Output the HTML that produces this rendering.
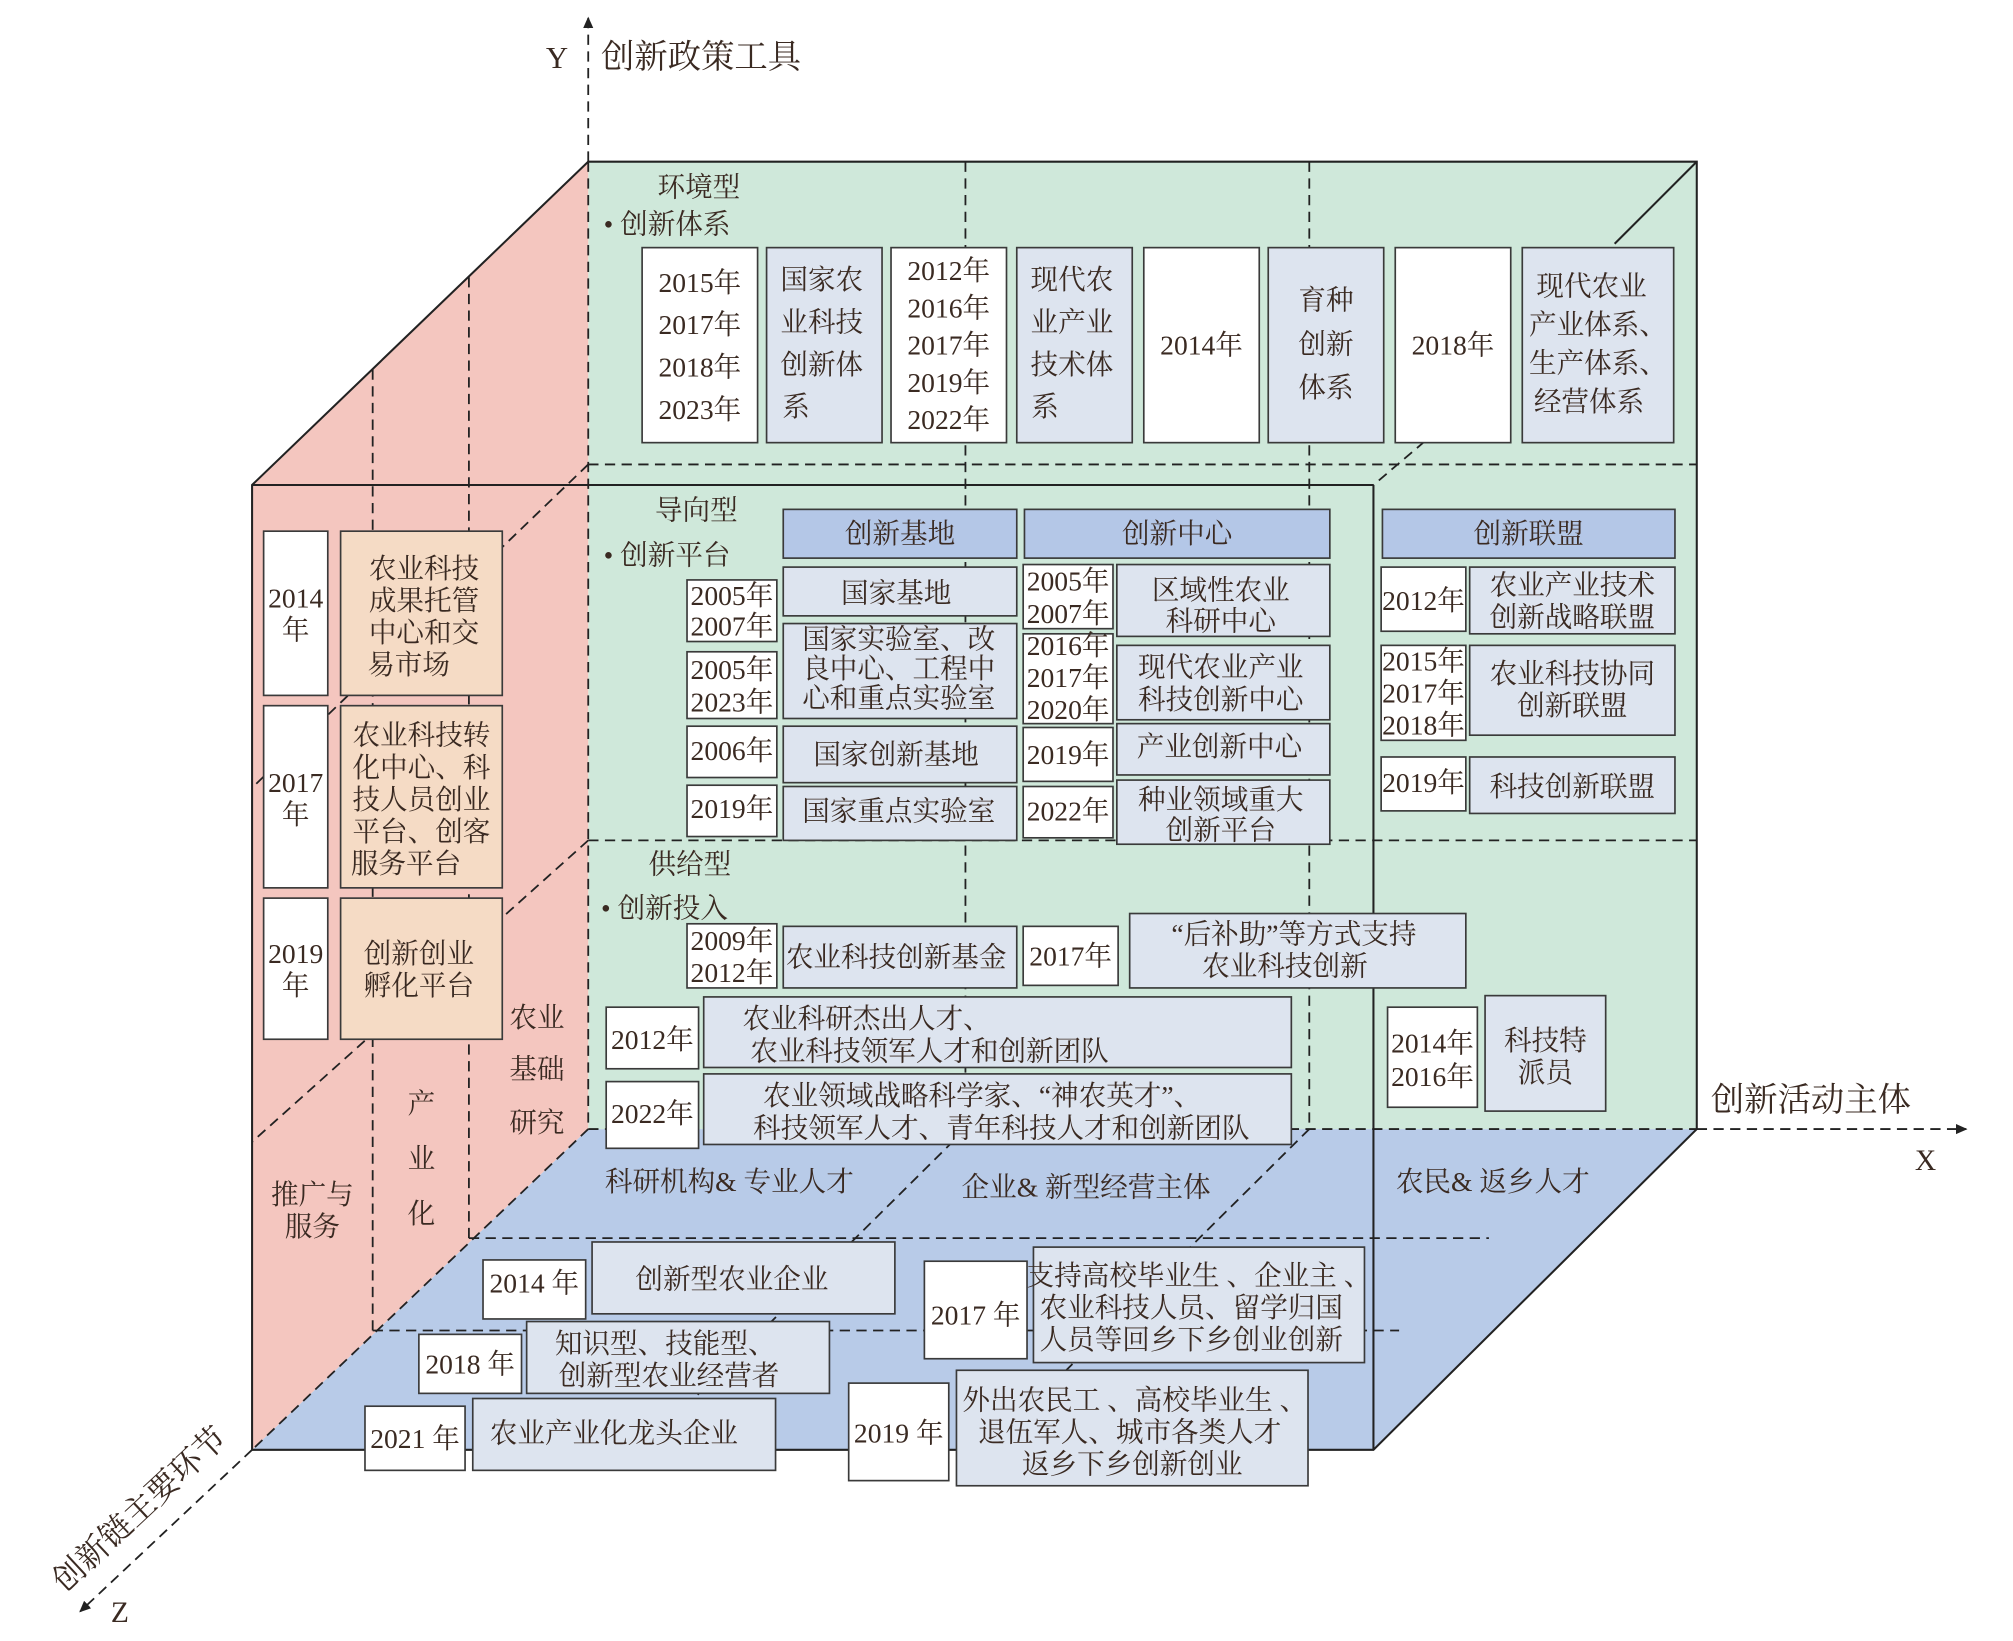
<!DOCTYPE html>
<html><head><meta charset="utf-8"><style>
html,body{margin:0;padding:0;background:#fff;}
svg{display:block;}
text{font-family:"Liberation Serif","Noto Serif CJK SC",serif;fill:#3a2a22;font-size:21.5px;}
.t text{text-anchor:middle;dominant-baseline:central;}
.w{fill:#fff;stroke:#3a3a3a;stroke-width:1.3;}
.g{fill:#dde4ef;stroke:#3a3a3a;stroke-width:1.3;}
.h{fill:#b4c7e7;stroke:#3a3a3a;stroke-width:1.3;}
.p{fill:#f5dbc5;stroke:#3a3a3a;stroke-width:1.3;}
.d{stroke:#222;stroke-width:1.4;stroke-dasharray:8,5;fill:none;}
.s{stroke:#222;stroke-width:1.6;fill:none;}
</style></head><body>
<svg width="2013" height="1641" viewBox="0 0 1568 1279" xmlns="http://www.w3.org/2000/svg">
<defs><marker id="ar" markerWidth="10" markerHeight="10" refX="8" refY="5" orient="auto" markerUnits="userSpaceOnUse"><path d="M0,1 L9,5 L0,9 z" fill="#222"/></marker></defs>
<rect x="458" y="126" width="864" height="754" fill="#cfe8da"/>
<polygon points="196,378 458,126 458,880 196,1130" fill="#f4c6bf"/>
<polygon points="458,880 1322,880 1070,1130 196,1130" fill="#b8cbe8"/>
<line class="d" x1="458" y1="362" x2="1322" y2="362"/>
<line class="d" x1="458" y1="655" x2="1322" y2="655"/>
<line class="d" x1="752" y1="126" x2="752" y2="880"/>
<line class="d" x1="1020" y1="126" x2="1020" y2="880"/>
<line class="d" x1="458" y1="126" x2="458" y2="880"/>
<line class="d" x1="458" y1="880" x2="1322" y2="880"/>
<line class="d" x1="458" y1="362" x2="196" y2="614"/>
<line class="d" x1="458" y1="655" x2="196" y2="890"/>
<line class="d" x1="290" y1="288" x2="290" y2="1037"/>
<line class="d" x1="365" y1="216" x2="365" y2="965"/>
<line class="d" x1="365" y1="965" x2="1160" y2="965"/>
<line class="d" x1="290" y1="1037" x2="1090" y2="1037"/>
<line class="d" x1="752" y1="880" x2="500" y2="1130"/>
<line class="d" x1="1020" y1="880" x2="768" y2="1130"/>
<line class="d" x1="458" y1="880" x2="196" y2="1130"/>
<line class="d" x1="1110" y1="344" x2="1070" y2="378"/>
<polyline class="s" points="196,1130 196,378 458,126 1322,126 1322,880 1070,1130 196,1130"/>
<line class="s" x1="196" y1="378" x2="1070" y2="378"/>
<line class="s" x1="1070" y1="378" x2="1070" y2="1130"/>
<line class="s" x1="1258" y1="190" x2="1322" y2="126"/>
<line class="d" x1="458" y1="126" x2="458" y2="14" marker-end="url(#ar)"/>
<line class="d" x1="1322" y1="880" x2="1532" y2="880" marker-end="url(#ar)"/>
<line class="d" x1="196" y1="1130" x2="62" y2="1256" marker-end="url(#ar)"/>
<text x="425" y="53" style="font-size:24px">Y</text>
<text x="468" y="53" style="font-size:26px">创新政策工具</text>
<text x="1333" y="866" style="font-size:26px">创新活动主体</text>
<text x="1492" y="912" style="font-size:23px">X</text>
<text x="86" y="1264" style="font-size:23px">Z</text>
<text x="0" y="0" style="font-size:25px" transform="translate(50,1242) rotate(-43)">创新链主要环节</text>
<text x="512" y="153">环境型</text>
<text x="470" y="182">• 创新体系</text>
<text x="510" y="405">导向型</text>
<text x="470" y="440">• 创新平台</text>
<text x="505" y="681">供给型</text>
<text x="468" y="715">• 创新投入</text>
<g class="t">
<rect class="w" x="500" y="193" width="90" height="152"/>
<text x="545" y="220">2015年</text><text x="545" y="253">2017年</text><text x="545" y="286">2018年</text><text x="545" y="319">2023年</text>
<rect class="g" x="597" y="193" width="90" height="152"/>
<text x="640" y="218">国家农</text><text x="640" y="251">业科技</text><text x="640" y="284">创新体</text><text x="620" y="317">系</text>
<rect class="w" x="694" y="193" width="90" height="152"/>
<text x="739" y="211">2012年</text><text x="739" y="240">2016年</text><text x="739" y="269">2017年</text><text x="739" y="298">2019年</text><text x="739" y="327">2022年</text>
<rect class="g" x="792" y="193" width="90" height="152"/>
<text x="835" y="218">现代农</text><text x="835" y="251">业产业</text><text x="835" y="284">技术体</text><text x="814" y="317">系</text>
<rect class="w" x="891" y="193" width="90" height="152"/><text x="936" y="269">2014年</text>
<rect class="g" x="988" y="193" width="90" height="152"/>
<text x="1033" y="234">育种</text><text x="1033" y="268">创新</text><text x="1033" y="302">体系</text>
<rect class="w" x="1087" y="193" width="90" height="152"/><text x="1132" y="269">2018年</text>
<rect class="g" x="1186" y="193" width="118" height="152"/>
<text x="1240" y="223">现代农业</text><text x="1245" y="253">产业体系、</text><text x="1245" y="283">生产体系、</text><text x="1238" y="313">经营体系</text>
<rect class="h" x="610" y="397" width="182" height="38"/><text x="701" y="416">创新基地</text>
<rect class="h" x="798" y="397" width="238" height="38"/><text x="917" y="416">创新中心</text>
<rect class="h" x="1077" y="397" width="228" height="38"/><text x="1191" y="416">创新联盟</text>
<rect class="w" x="535" y="452" width="70" height="48"/><text x="570" y="464">2005年</text><text x="570" y="488">2007年</text>
<rect class="w" x="535" y="508" width="70" height="52"/><text x="570" y="522">2005年</text><text x="570" y="547">2023年</text>
<rect class="w" x="535" y="566" width="70" height="40"/><text x="570" y="585">2006年</text>
<rect class="w" x="535" y="612" width="70" height="40"/><text x="570" y="630">2019年</text>
<rect class="g" x="610" y="442" width="182" height="38"/><text x="698" y="462">国家基地</text>
<rect class="g" x="610" y="486" width="182" height="74"/><text x="700" y="498">国家实验室、改</text><text x="700" y="521">良中心、工程中</text><text x="700" y="544">心和重点实验室</text>
<rect class="g" x="610" y="566" width="182" height="44"/><text x="698" y="588">国家创新基地</text>
<rect class="g" x="610" y="613" width="182" height="42"/><text x="700" y="632">国家重点实验室</text>
<rect class="w" x="797" y="440" width="70" height="50"/><text x="832" y="453">2005年</text><text x="832" y="478">2007年</text>
<rect class="w" x="797" y="494" width="70" height="70"/><text x="832" y="503">2016年</text><text x="832" y="528">2017年</text><text x="832" y="553">2020年</text>
<rect class="w" x="797" y="567" width="70" height="42"/><text x="832" y="588">2019年</text>
<rect class="w" x="797" y="613" width="70" height="40"/><text x="832" y="632">2022年</text>
<rect class="g" x="870" y="440" width="166" height="56"/><text x="951" y="460">区域性农业</text><text x="951" y="484">科研中心</text>
<rect class="g" x="870" y="503" width="166" height="58"/><text x="951" y="520">现代农业产业</text><text x="951" y="545">科技创新中心</text>
<rect class="g" x="870" y="564" width="166" height="40"/><text x="950" y="582">产业创新中心</text>
<rect class="g" x="870" y="608" width="166" height="50"/><text x="951" y="623">种业领域重大</text><text x="951" y="647">创新平台</text>
<rect class="w" x="1076" y="442" width="66" height="50"/><text x="1109" y="468">2012年</text>
<rect class="g" x="1145" y="442" width="160" height="52"/><text x="1225" y="456">农业产业技术</text><text x="1225" y="481">创新战略联盟</text>
<rect class="w" x="1076" y="503" width="66" height="74"/><text x="1109" y="515">2015年</text><text x="1109" y="540">2017年</text><text x="1109" y="565">2018年</text>
<rect class="g" x="1145" y="503" width="160" height="70"/><text x="1225" y="525">农业科技协同</text><text x="1225" y="550">创新联盟</text>
<rect class="w" x="1076" y="590" width="66" height="42"/><text x="1109" y="610">2019年</text>
<rect class="g" x="1145" y="590" width="160" height="44"/><text x="1225" y="613">科技创新联盟</text>
<rect class="w" x="535" y="720" width="70" height="50"/><text x="570" y="733">2009年</text><text x="570" y="758">2012年</text>
<rect class="g" x="610" y="722" width="182" height="48"/><text x="698" y="746">农业科技创新基金</text>
<rect class="w" x="797" y="722" width="74" height="46"/><text x="834" y="745">2017年</text>
<rect class="g" x="880" y="712" width="262" height="58"/><text x="1008" y="728">“后补助”等方式支持</text><text x="1001" y="753">农业科技创新</text>
<rect class="w" x="472" y="785" width="72" height="48"/><text x="508" y="810">2012年</text>
<rect class="g" x="548" y="777" width="458" height="55"/><text x="675" y="794">农业科研杰出人才、</text><text x="724" y="819">农业科技领军人才和创新团队</text>
<rect class="w" x="472" y="843" width="72" height="52"/><text x="508" y="868">2022年</text>
<rect class="g" x="548" y="837" width="458" height="55"/><text x="765" y="854">农业领域战略科学家、“神农英才”、</text><text x="780" y="879">科技领军人才、青年科技人才和创新团队</text>
<rect class="w" x="1081" y="785" width="70" height="78"/><text x="1116" y="813">2014年</text><text x="1116" y="839">2016年</text>
<rect class="g" x="1157" y="776" width="94" height="90"/><text x="1204" y="811">科技特</text><text x="1204" y="836">派员</text>
<rect class="w" x="205" y="414" width="50" height="128"/><text x="230" y="466">2014</text><text x="230" y="491">年</text>
<rect class="p" x="265" y="414" width="126" height="128"/><text x="330" y="443">农业科技</text><text x="330" y="468">成果托管</text><text x="330" y="493">中心和交</text><text x="318" y="518">易市场</text>
<rect class="w" x="205" y="550" width="50" height="142"/><text x="230" y="610">2017</text><text x="230" y="635">年</text>
<rect class="p" x="265" y="550" width="126" height="142"/><text x="328" y="573">农业科技转</text><text x="328" y="598">化中心、科</text><text x="328" y="623">技人员创业</text><text x="328" y="648">平台、创客</text><text x="316" y="673">服务平台</text>
<rect class="w" x="205" y="700" width="50" height="110"/><text x="230" y="743">2019</text><text x="230" y="768">年</text>
<rect class="p" x="265" y="700" width="126" height="110"/><text x="326" y="743">创新创业</text><text x="326" y="768">孵化平台</text>
<text x="418" y="793">农业</text><text x="418" y="833">基础</text><text x="418" y="875">研究</text>
<text x="328" y="860">产</text><text x="328" y="903">业</text><text x="328" y="946">化</text>
<text x="243" y="931">推广与</text><text x="243" y="956">服务</text>
<text x="568" y="921">科研机构&amp; 专业人才</text>
<text x="846" y="925">企业&amp; 新型经营主体</text>
<text x="1163" y="921">农民&amp; 返乡人才</text>
<rect class="w" x="376" y="982" width="80" height="46"/><text x="416" y="1000">2014 年</text>
<rect class="g" x="461" y="968" width="236" height="56"/><text x="570" y="997">创新型农业企业</text>
<rect class="w" x="326" y="1040" width="80" height="46"/><text x="366" y="1063">2018 年</text>
<rect class="g" x="410" y="1030" width="236" height="56"/><text x="518" y="1047">知识型、技能型、</text><text x="521" y="1072">创新型农业经营者</text>
<rect class="w" x="284" y="1096" width="78" height="50"/><text x="323" y="1121">2021 年</text>
<rect class="g" x="368" y="1090" width="236" height="56"/><text x="478" y="1117">农业产业化龙头企业</text>
<rect class="w" x="720" y="983" width="80" height="76"/><text x="760" y="1025">2017 年</text>
<rect class="g" x="805" y="972" width="258" height="90"/><text x="934" y="994">支持高校毕业生 、企业主 、</text><text x="928" y="1019">农业科技人员、留学归国</text><text x="928" y="1044">人员等回乡下乡创业创新</text>
<rect class="w" x="661" y="1078" width="78" height="76"/><text x="700" y="1117">2019 年</text>
<rect class="g" x="745" y="1068" width="274" height="90"/><text x="884" y="1091">外出农民工 、高校毕业生 、</text><text x="880" y="1116">退伍军人、城市各类人才</text><text x="882" y="1141">返乡下乡创新创业</text>
</g>
</svg>
</body></html>
